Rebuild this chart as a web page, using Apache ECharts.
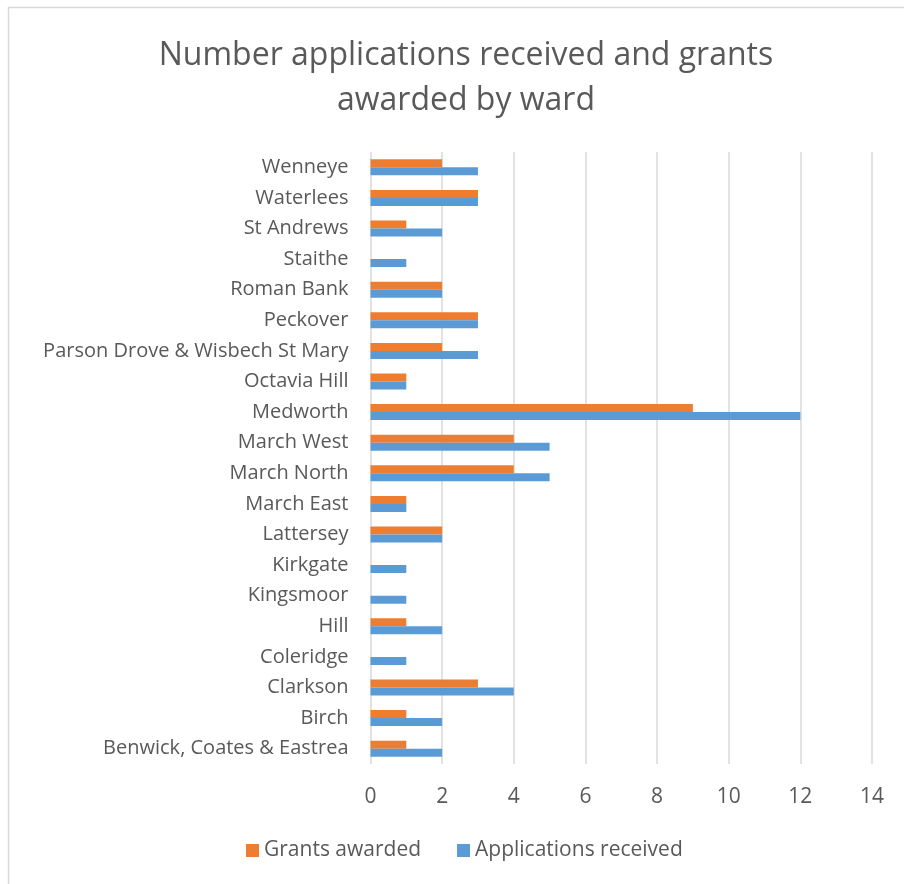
<!DOCTYPE html>
<html>
<head>
<meta charset="utf-8">
<script src="https://cdn.jsdelivr.net/npm/echarts@6/dist/echarts.min.js"></script>
<style>
  html, body { margin: 0; padding: 0; background: #fff; }
  #main { width: 904px; height: 884px; }
</style>
</head>
<body>
<div id="main"></div>
<script>
// wards, bottom to top
var wards = [
  'Benwick, Coates & Eastrea', 'Birch', 'Clarkson', 'Coleridge', 'Hill',
  'Kingsmoor', 'Kirkgate', 'Lattersey', 'March East', 'March North',
  'March West', 'Medworth', 'Octavia Hill', 'Parson Drove & Wisbech St Mary',
  'Peckover', 'Roman Bank', 'Staithe', 'St Andrews', 'Waterlees', 'Wenneye'
];
var grantsAwarded = [1, 1, 3, 0, 1, 0, 0, 2, 1, 4, 4, 9, 1, 2, 3, 2, 0, 1, 3, 2];
var applicationsReceived = [2, 2, 4, 1, 2, 1, 1, 2, 1, 5, 5, 12, 1, 3, 3, 2, 1, 2, 3, 3];

var chartDom = document.getElementById('main');
var myChart = echarts.init(chartDom);

var textColor = '#595959';
var font = 'Open Sans';

var option = {
  animation: false,
  textStyle: { fontFamily: font },
  title: {
    text: 'Number applications received and grants\nawarded by ward',
    left: 461,
    textAlign: 'center',
    top: 28,
    textStyle: {
      color: textColor,
      fontSize: 32,
      fontWeight: 'normal',
      fontFamily: font,
      lineHeight: 45
    }
  },
  // chart frame
  graphic: [{
    type: 'rect',
    shape: { x: 8.5, y: 7.5, width: 1000, height: 1000 },
    style: { fill: 'none', stroke: '#d9d9d9', lineWidth: 1.5 },
    silent: true
  }],
  legend: {
    data: ['Grants awarded', 'Applications received'],
    left: 241,
    top: 835,
    icon: 'rect',
    itemWidth: 13,
    itemHeight: 13,
    itemGap: 36,
    textStyle: { color: textColor, fontSize: 21, fontFamily: font }
  },
  grid: {
    left: 370.5,
    right: 32,
    top: 152,
    bottom: 120,
    containLabel: false
  },
  xAxis: {
    type: 'value',
    min: 0,
    max: 14,
    interval: 2,
    axisLine: { show: false },
    axisTick: { show: false },
    axisLabel: { color: textColor, fontSize: 21, margin: 23, fontFamily: font },
    splitLine: { lineStyle: { color: '#d9d9d9', width: 1.5 } }
  },
  yAxis: {
    type: 'category',
    data: wards,
    axisLine: { show: false },
    axisTick: { show: false },
    axisLabel: { color: textColor, fontSize: 20, margin: 22, fontFamily: font }
  },
  series: [
    {
      name: 'Grants awarded',
      type: 'bar',
      data: grantsAwarded,
      barWidth: 8,
      barGap: '0%',
      itemStyle: { color: '#ED7D31' }
    },
    {
      name: 'Applications received',
      type: 'bar',
      data: applicationsReceived,
      barWidth: 8,
      barGap: '0%',
      itemStyle: { color: '#5B9BD5' }
    }
  ]
};

option && myChart.setOption(option);
</script>
</body>
</html>
